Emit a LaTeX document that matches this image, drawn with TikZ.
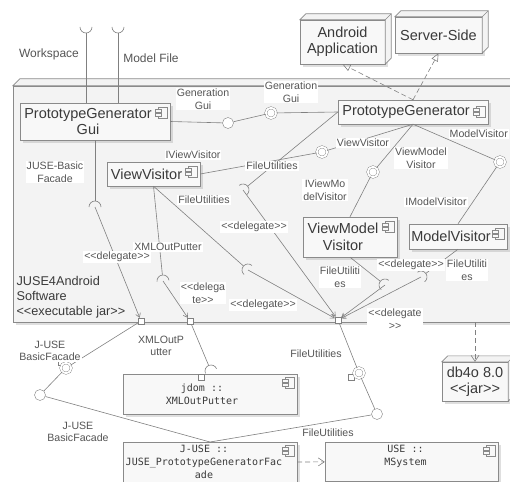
\documentclass[tikz,border=0pt]{standalone}
\usepackage{fontspec}
\setmainfont{Liberation Sans}
\setmonofont{DejaVu Sans Mono}
\usetikzlibrary{arrows.meta,positioning,calc,shadows}

\definecolor{lngray}{HTML}{808080}
\definecolor{bxgray}{HTML}{8A8A8A}
\definecolor{txgray}{HTML}{3A3A3A}
\definecolor{lbgray}{HTML}{555555}
\definecolor{jarfill}{HTML}{F3F3F3}
\definecolor{cmpfill}{HTML}{F8F8F8}

% stereotype brackets without the << ligature
\newcommand{\stq}[1]{<\kern0pt<#1>\kern0pt>}
% small component glyph in the upper right corner of a node
\newcommand{\cmpicon}[2][4]{%
  \draw[draw=bxgray, fill=cmpfill, line width=0.5pt] ($(#2.north east)+(-12,#1)$) rectangle ++(9,11);
  \draw[draw=bxgray, fill=cmpfill, line width=0.5pt] ($(#2.north east)+(-15,#1+2.5)$) rectangle ++(6,2.5);
  \draw[draw=bxgray, fill=cmpfill, line width=0.5pt] ($(#2.north east)+(-15,#1+6.5)$) rectangle ++(6,2.5);}
% top and side faces of a deployment node
\newcommand{\boxdepth}[2]{%
  \filldraw[draw=bxgray, fill=jarfill, line width=0.6pt] (#1.north west) -- ++(#2,-#2) -- ($(#1.north east)+(#2,-#2)$) -- ($(#1.south east)+(#2,-#2)$) -- (#1.south east) -- (#1.north east) -- cycle;
  \draw[bxgray, line width=0.6pt] (#1.north east) -- ++(#2,-#2);}
% required interface: half circle at #3, open away from #2
\newcommand{\sock}[3][6pt]{%
  \draw[ln] let \p1=($(#2)-(#3)$), \n1={atan2(\y1,\x1)} in
    ($(#3)+(\n1-90:#1)$) arc[start angle=\n1-90, end angle=\n1+90, radius=#1];}

\begin{document}
\begin{tikzpicture}[
  x=1pt, y=-1pt,
  font=\fontsize{10.6}{12.5}\selectfont,
  ln/.style={draw=lngray, line width=0.6pt},
  dlg/.style={ln, -{Straight Barb[length=4pt,width=5pt]}},
  dep/.style={ln, dash pattern=on 5pt off 3pt, -{Straight Barb[length=6pt,width=8pt]}},
  real/.style={ln, dash pattern=on 5pt off 3pt, -{Triangle[open,length=8pt,width=7pt]}},
  cmp/.style={draw=bxgray, fill=cmpfill, text=txgray, align=center, inner sep=2pt,
    font=\fontsize{14.5}{16.5}\selectfont,
    drop shadow={shadow xshift=2.5pt, shadow yshift=-3pt, opacity=0.25}},
  mono/.style={cmp, inner xsep=0pt, inner ysep=3pt, font=\ttfamily\fontsize{10}{13}\selectfont},
  jar/.style={cmp},
  lbl/.style={fill=white, text=lbgray, align=center, inner sep=1pt},
  ball/.style={circle, draw=lngray, double=white, double distance=1.8pt, fill=white, minimum size=10.5pt, inner sep=0pt},
  ring/.style={circle, draw=lngray, fill=white, minimum size=11pt, inner sep=0pt},
  port/.style={rectangle, draw=lngray, fill=white, minimum size=6pt, inner sep=0pt}
]
  \useasboundingbox (0,0) rectangle (510,481);

  % the executable jar
  \node[jar, fill=jarfill, minimum width=507pt, minimum height=236pt] (jsoft) at (266.5,204) {};
  \boxdepth{jsoft}{7}
  \node[anchor=south west, align=left, text=txgray, font=\fontsize{12.7}{15}\selectfont] (jsofttxt) at (13,322) {JUSE4Android\\Software\\\stq{executable jar}};

  % outer nodes
  \node[jar, minimum width=85pt, minimum height=44pt] (android) at (342.5,42) {Android\\Application};
  \boxdepth{android}{6}
  \node[jar, minimum width=87pt, minimum height=36pt] (server) at (438.5,35) {Server-Side};
  \boxdepth{server}{6}
  \node[jar, minimum width=66pt, minimum height=39pt] (db4o) at (475,381.5) {db4o 8.0\\\stq{jar}};
  \boxdepth{db4o}{6}

  % components
  \node[cmp, minimum width=150pt, minimum height=37pt] (gui) at (95,121.5) {PrototypeGenerator\kern14pt\\Gui\kern14pt};
  \node[cmp, minimum width=150pt, minimum height=24pt] (pg) at (413,112) {PrototypeGenerator\kern14pt};
  \node[cmp, minimum width=93pt, minimum height=24pt] (vv) at (153.5,174) {ViewVisitor\kern14pt};
  \node[cmp, minimum width=94pt, minimum height=40pt] (vmv) at (350,237) {ViewModel\kern14pt\\Visitor\kern14pt};
  \node[cmp, minimum width=98pt, minimum height=25pt] (mv) at (458,236.5) {ModelVisitor\kern14pt};
  \node[mono, minimum width=174pt, minimum height=40pt] (jdom) at (210,394) {jdom ::\kern16pt\\XMLOutPutter\kern16pt};
  \node[mono, minimum width=174pt, anchor=north] (juse) at (210,442) {J-USE ::\kern12pt\\JUSE\_PrototypeGeneratorFac\kern12pt\\ade\kern12pt};
  \node[mono, minimum width=173pt, anchor=north] (use) at (411.5,442) {USE ::\kern12pt\\MSystem\kern12pt\\\mbox{}};
  \cmpicon{gui}
  \cmpicon[6]{pg}
  \cmpicon{vv}
  \cmpicon{vmv}
  \cmpicon{mv}
  \cmpicon[3]{jdom}
  \cmpicon[3]{juse}
  \cmpicon[3]{use}

  % realizations and dependencies
  \draw[real] (pg.north) -- (android.south);
  \draw[real] (pg.north) -- (server.south);
  \draw[dep] (jsoft.south -| db4o) -- (db4o.north);
  \draw[dep] (juse.east) -- (use.west);

  % workspace and model file
  \coordinate (sW) at (86,27);
  \coordinate (sM) at (118,27);
  \coordinate (guiW) at (gui.north -| sW);
  \coordinate (guiM) at (gui.north -| sM);
  \draw[ln, shorten >=6pt] (guiW) -- (sW); \sock{guiW}{sW}
  \draw[ln, shorten >=6pt] (guiM) -- (sM); \sock{guiM}{sM}
  \node[text=lbgray, font=\fontsize{12}{14}\selectfont] (lwork) at (49,54) {Workspace};
  \node[text=lbgray, font=\fontsize{12}{14}\selectfont] (lmodel) at (151,58) {Model File};

  % provided interfaces of the generator
  \node[ring] (ciG) at (228,123) {};
  \node[ball] (bcG) at (271,113) {};
  \node[ball] (bcVV) at (322,152) {};
  \node[ball] (bcVMV) at (373,172) {};
  \node[ball] (bcMV) at (500,162) {};
  \draw[ln] (gui.east) -- (ciG) -- (bcG) -- (pg.west);
  \draw[ln] (vv.east) -- (bcVV) -- (pg.south);
  \draw[ln] (vmv.north) -- (bcVMV) -- (pg.south);
  \draw[ln] (mv.north) -- (bcMV) -- (pg.south);

  % required interfaces inside
  \coordinate (sPF) at (243,190);
  \coordinate (sJB) at (95,207);
  \coordinate (sXO) at (163,281);
  \coordinate (sVF) at (248,270);
  \coordinate (sMF) at (385,285);
  \coordinate (sMVF) at (421,277);
  \draw[ln, shorten >=6pt] (pg.west) -- (sPF); \sock{pg.west}{sPF}
  \draw[ln, shorten >=6pt] (gui.south) -- (sJB); \sock{gui.south}{sJB}
  \draw[ln, shorten >=6pt] (vv.south) -- (sXO); \sock{vv.south}{sXO}
  \draw[ln, shorten >=6pt] (vv.south) -- (sVF); \sock{vv.south}{sVF}
  \draw[ln, shorten >=6pt] (vmv.south) -- (sMF); \sock{vmv.south}{sMF}
  \draw[ln, shorten >=6pt] (mv.south) -- (sMVF); \sock{mv.south}{sMVF}

  % ports and delegations
  \node[port] (pJ) at (141,321) {};
  \node[port] (pX) at (190,321) {};
  \node[port] (pF) at (338,320) {};
  \draw[dlg] (sJB) -- (pJ);
  \draw[dlg] (sXO) -- (pX);
  \draw[dlg] (sPF) -- (pF);
  \draw[dlg] (sVF) -- (pF);
  \draw[dlg] (sMF) -- (pF);
  \draw[dlg] (sMVF) -- (pF);

  % outside the jar
  \node[port] (qJ) at (61,362) {};
  \node[ball] (bcJ) at (66,368) {};
  \node[ring] (ciJ) at (40,395) {};
  \draw[ln] (pJ) -- (bcJ) -- (ciJ) -- (juse.north);
  \coordinate (sJD) at (211,371);
  \draw[ln, shorten >=6pt] (pX) -- (sJD); \sock{pX}{sJD}
  \node[port] (qX) at (201,377) {};
  \node[port] (qF) at (351,377) {};
  \node[ball] (bcF) at (359,373) {};
  \node[ring] (ciF) at (377,414) {};
  \draw[ln] (pF) -- (bcF) -- (ciF) -- (juse.north);

  % labels
  \node[lbl] (l1) at (203,99) {Generation\\Gui};
  \node[lbl] (l2) at (291,92) {Generation\\Gui};
  \node[lbl] (l3) at (193,155) {IViewVisitor};
  \node[lbl] (l4) at (272,166) {FileUtilities};
  \node[lbl] (l5) at (363,143) {ViewVisitor};
  \node[lbl] (l6) at (421,158) {ViewModel\\Visitor};
  \node[lbl] (l7) at (325,190) {IViewMo\\delVisitor};
  \node[lbl, anchor=east] (l8) at (509,134) {ModelVisitor};
  \node[lbl] (l9) at (436,202) {IModelVisitor};
  \node[lbl] (l10) at (55,172) {JUSE-Basic\\Facade};
  \node[lbl] (l11) at (204,200) {FileUtilities};
  \node[lbl] (l12) at (168,247) {XMLOutPutter};
  \node[lbl] (l13) at (117,257) {\stq{delegate}};
  \node[lbl] (l14) at (203,293) {<\kern0pt<delega\\te>\kern0pt>};
  \node[lbl] (l15) at (254,227) {\stq{delegate}};
  \node[lbl] (l16) at (263,305) {\stq{delegate}};
  \node[lbl] (l17) at (340,277) {FileUtiliti\\es};
  \node[lbl] (l18) at (411,265) {\stq{delegate}};
  \node[lbl] (l19) at (467,270) {FileUtiliti\\es};
  \node[lbl] (l20) at (395,319) {<\kern0pt<delegate\\>\kern0pt>};
  \node[lbl] (l21) at (50,351) {J-USE\\BasicFacade};
  \node[lbl] (l22) at (161,346) {XMLOutP\\utter};
  \node[lbl] (l23) at (78,432) {J-USE\\BasicFacade};
  \node[lbl] (l24) at (316,354) {FileUtilities};
  \node[lbl] (l25) at (328,433) {FileUtilities};
\end{tikzpicture}
\end{document}
